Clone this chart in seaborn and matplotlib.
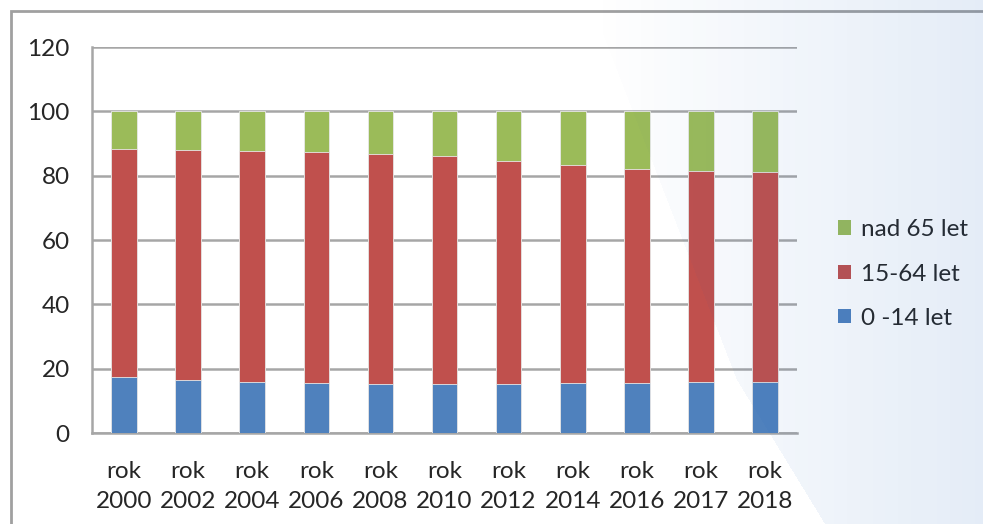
import numpy as np
import pandas as pd
import matplotlib
matplotlib.use("Agg")
import matplotlib.pyplot as plt
import seaborn as sns
from matplotlib.patches import Rectangle, Patch
from matplotlib.path import Path

# ---- data ----
years = ["rok\n2000", "rok\n2002", "rok\n2004", "rok\n2006", "rok\n2008", "rok\n2010",
         "rok\n2012", "rok\n2014", "rok\n2016", "rok\n2017", "rok\n2018"]
age_0_14 = [17.4, 16.6, 15.7, 15.4, 15.1, 15.1, 15.1, 15.4, 15.5, 15.7, 15.9]
age_15_64 = [70.8, 71.5, 72.1, 72.0, 71.7, 71.1, 69.5, 67.8, 66.6, 65.8, 65.3]
age_65 = [11.8, 11.9, 12.2, 12.6, 13.2, 13.8, 15.4, 16.8, 17.9, 18.5, 18.8]
series_names = ["0 -14 let", "15-64 let", "nad 65 let"]
colors = ["#4F81BD", "#C0504D", "#9BBB59"]
yticks = [0, 20, 40, 60, 80, 100, 120]

df = pd.DataFrame({"year": years, "a": age_0_14, "b": age_15_64, "c": age_65})
df["cum_a"] = df["a"]
df["cum_b"] = df["a"] + df["b"]
df["cum_c"] = df["a"] + df["b"] + df["c"]

sns.set_style("white")
plt.rcParams["font.family"] = ["Lato", "DejaVu Sans"]

W, H = 983, 524
fig = plt.figure(figsize=(W / 100, H / 100), dpi=100)
fig.patch.set_facecolor("white")

ax = fig.add_axes([92 / W, 1 - 433 / H, (797 - 92) / W, (433 - 47) / H])
ax.set_facecolor("none")

grey = "#A6A6A6"
bar_w = 0.4
for col, c in zip(["cum_c", "cum_b", "cum_a"], [colors[2], colors[1], colors[0]]):
    sns.barplot(data=df, x="year", y=col, color=c, width=bar_w, ax=ax,
                saturation=1, edgecolor="#E8E8E8", linewidth=0.6, zorder=3)

ax.set_ylim(0, 120)
ax.set_xlim(-0.5, len(years) - 0.5)
ax.set_yticks(yticks)
ax.set_yticklabels([str(t) for t in yticks], fontsize=17.5)
ax.yaxis.grid(True, color=grey, linewidth=1.8, zorder=0)
ax.set_axisbelow(True)

# x ticks: marks at category boundaries, labels at centers
ax.set_xticks(np.arange(-0.5, len(years), 1.0))
ax.set_xticklabels([])
ax.set_xticks(np.arange(len(years)), minor=True)
ax.set_xticklabels(years, minor=True, fontsize=17.5, linespacing=1.55)
ax.tick_params(axis="x", which="major", length=7, width=1.5, color=grey, direction="out")
ax.tick_params(axis="x", which="minor", length=0, pad=20)
ax.tick_params(axis="y", length=6, width=1.5, color=grey, direction="out", pad=10)
ax.set_xlabel("")
ax.set_ylabel("")
for s in ["top", "right"]:
    ax.spines[s].set_visible(False)
for s in ["left", "bottom"]:
    ax.spines[s].set_color(grey)
    ax.spines[s].set_linewidth(1.8)

# legend
handles = [Patch(facecolor=colors[2], edgecolor="none"),
           Patch(facecolor=colors[1], edgecolor="none"),
           Patch(facecolor=colors[0], edgecolor="none")]
labels = [series_names[2], series_names[1], series_names[0]]
fig.legend(handles, labels, loc="center left", bbox_to_anchor=(838 / W, 1 - 274 / H),
           frameon=False, fontsize=17.5, handlelength=0.55, handleheight=0.55,
           handletextpad=0.4, labelspacing=0.95, borderpad=0, borderaxespad=0)

# outer frame
frame = Rectangle((11 / W, -0.1), 1.2, 1 - 11 / H + 0.1, transform=fig.transFigure,
                  fill=False, edgecolor="#A0A0A0", linewidth=2, zorder=5)
fig.patches.append(frame)

# light blue gradient overlay on the right
ov = fig.add_axes([0, 0, 1, 1], zorder=10)
ov.set_xlim(0, W)
ov.set_ylim(H, 0)
ov.axis("off")
ov.patch.set_alpha(0)
xx, yy = np.meshgrid(np.arange(W) + 0.5, np.arange(H) + 0.5)
poly = [(590, 0), (640, 130), (737, 380), (825, H), (W, H), (W, 0)]
mask = Path(poly).contains_points(np.c_[xx.ravel(), yy.ravel()]).reshape(H, W)
alpha = np.clip((xx - 590) / (W - 590), 0, 1) * 0.12
rgba = np.zeros((H, W, 4))
rgba[..., 0] = 30 / 255
rgba[..., 1] = 100 / 255
rgba[..., 2] = 190 / 255
rgba[..., 3] = alpha * mask
ov.imshow(rgba, extent=(0, W, H, 0), interpolation="bilinear", aspect="auto")

fig.savefig("out.png", dpi=100)
